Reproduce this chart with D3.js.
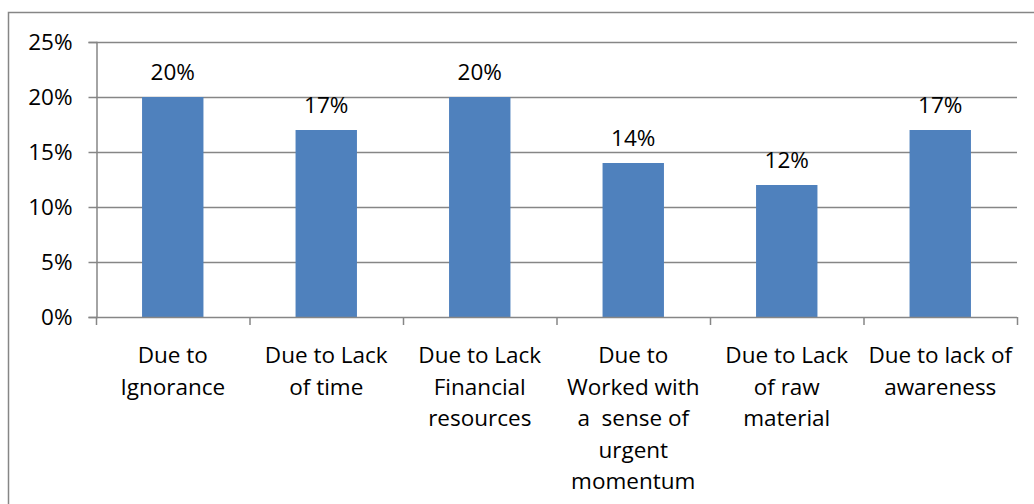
<!DOCTYPE html>
<head>
  <meta charset="utf-8">
  <script src="https://d3js.org/d3.v7.min.js"></script>
  <style>
    body { margin: 0; background: #fff; }
    svg text { font-family: "Open Sans", sans-serif; fill: #000; }
  </style>
</head>
<body>
  <svg width="1034" height="504" id="chart"></svg>
  <script>
    // chart values
    const categories = [
      "Due to\nIgnorance",
      "Due to Lack\nof time",
      "Due to Lack\nFinancial\nresources",
      "Due to\nWorked with\na  sense of\nurgent\nmomentum",
      "Due to Lack\nof raw\nmaterial",
      "Due to lack of\nawareness"
    ];
    const values = [0.20, 0.17, 0.20, 0.14, 0.12, 0.17];
    const yTicks = [0, 0.05, 0.10, 0.15, 0.20, 0.25];

    const svg = d3.select('#chart');
    const margin = { left: 96, right: 1017, top: 42, bottom: 317 };
    const fs = '22.5px';

    // outer frame (runs off the right and bottom edges)
    svg.append('rect')
      .attr('x', 8.5).attr('y', 12.5)
      .attr('width', 1040).attr('height', 520)
      .attr('fill', 'none').attr('stroke', '#868686').attr('stroke-width', 1.5);

    const x = d3.scaleBand()
      .domain(d3.range(categories.length))
      .range([margin.left, margin.right])
      .paddingInner(0.6).paddingOuter(0.3);

    const y = d3.scaleLinear()
      .domain([0, 0.25])
      .range([margin.bottom, margin.top]);

    // gridlines
    svg.append('g')
      .selectAll('line')
      .data(yTicks.filter(d => d > 0))
      .enter().append('line')
      .attr('x1', margin.left).attr('x2', margin.right)
      .attr('y1', d => Math.round(y(d)) + 0.5).attr('y2', d => Math.round(y(d)) + 0.5)
      .attr('stroke', '#868686').attr('stroke-width', 1.5);

    // bars
    svg.append('g')
      .selectAll('rect')
      .data(values)
      .enter().append('rect')
      .attr('x', (d, i) => x(i))
      .attr('y', d => y(d))
      .attr('width', x.bandwidth())
      .attr('height', d => y(0) - y(d))
      .attr('fill', '#4f81bd');

    // data labels
    svg.append('g')
      .selectAll('text')
      .data(values)
      .enter().append('text')
      .attr('x', (d, i) => x(i) + x.bandwidth() / 2)
      .attr('y', d => y(d) - 17)
      .attr('text-anchor', 'middle')
      .style('font-size', fs)
      .text(d => d3.format('.0%')(d));

    // y axis
    const yAxis = svg.append('g')
      .attr('transform', `translate(${margin.left + 0.5},0)`)
      .call(d3.axisLeft(y).tickValues(yTicks).tickFormat(d3.format('.0%')).tickSize(8).tickPadding(16));
    yAxis.select('.domain').attr('stroke', '#868686').attr('stroke-width', 1.5);
    yAxis.selectAll('.tick line').attr('stroke', '#868686').attr('stroke-width', 1.5);
    yAxis.selectAll('.tick text').style('font-size', fs).attr('fill', '#000');

    // x axis line and category separators
    const step = x.step();
    const bounds = d3.range(categories.length + 1).map(i => margin.left + i * step);
    svg.append('line')
      .attr('x1', margin.left).attr('x2', margin.right)
      .attr('y1', margin.bottom + 0.5).attr('y2', margin.bottom + 0.5)
      .attr('stroke', '#868686').attr('stroke-width', 1.5);
    svg.append('g')
      .selectAll('line')
      .data(bounds)
      .enter().append('line')
      .attr('x1', d => d + 0.5).attr('x2', d => d + 0.5)
      .attr('y1', margin.bottom).attr('y2', margin.bottom + 8)
      .attr('stroke', '#868686').attr('stroke-width', 1.5);

    // category labels
    const cat = svg.append('g')
      .selectAll('text')
      .data(categories)
      .enter().append('text')
      .attr('text-anchor', 'middle')
      .style('font-size', fs)
      .attr('transform', (d, i) => `translate(${x(i) + x.bandwidth() / 2},${margin.bottom + 46})`);
    cat.selectAll('tspan')
      .data(d => d.split('\n'))
      .enter().append('tspan')
      .attr('x', 0)
      .attr('y', (d, i) => i * 31.5)
      .style('white-space', 'pre')
      .text(d => d);
  </script>
</body>
